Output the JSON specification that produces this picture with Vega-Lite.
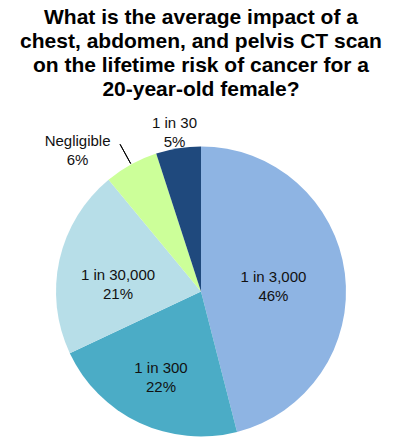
{
  "$schema": "https://vega.github.io/schema/vega-lite/v6.json",
  "width": 400,
  "height": 445,
  "autosize": {"type": "fit", "contains": "padding"},
  "padding": {"top": 29, "left": 0, "right": 5, "bottom": 0},
  "background": "white",
  "title": {
    "text": [
      "What is the average impact of a",
      "chest, abdomen, and pelvis CT scan",
      "on the lifetime risk of cancer for a",
      "20-year-old female?"
    ],
    "font": "Liberation Sans",
    "fontSize": 21,
    "fontWeight": "bold",
    "lineHeight": 24,
    "baseline": "top",
    "color": "black",
    "anchor": "middle",
    "offset": 16
  },
  "data": {
    "values": [
      {"label": "1 in 3,000", "pct": 46, "idx": 1},
      {"label": "1 in 300", "pct": 22, "idx": 2},
      {"label": "1 in 30,000", "pct": 21, "idx": 3},
      {"label": "Negligible", "pct": 6, "idx": 4},
      {"label": "1 in 30", "pct": 5, "idx": 5}
    ]
  },
  "transform": [
    {"calculate": "[datum.label, datum.pct + '%']", "as": "txt"}
  ],
  "encoding": {
    "theta": {"field": "pct", "type": "quantitative", "stack": true},
    "order": {"field": "idx", "type": "quantitative"}
  },
  "layer": [
    {
      "mark": {"type": "arc", "outerRadius": 145},
      "encoding": {
        "color": {
          "field": "label",
          "type": "nominal",
          "scale": {
            "domain": ["1 in 3,000", "1 in 300", "1 in 30,000", "Negligible", "1 in 30"],
            "range": ["#8EB4E3", "#4BACC6", "#B7DEE8", "#CCFF99", "#1F497D"]
          },
          "legend": null
        }
      }
    },
    {
      "mark": {
        "type": "arc",
        "outerRadius": 168,
        "innerRadius": 146,
        "padAngle": 0.6,
        "filled": false,
        "stroke": "black",
        "strokeWidth": 1
      },
      "encoding": {
        "strokeOpacity": {
          "condition": {"test": "datum.label === 'Negligible'", "value": 1},
          "value": 0
        }
      }
    },
    {
      "mark": {"type": "text", "radius": 74, "dx": -1, "dy": -5, "font": "Liberation Sans", "fontSize": 15, "lineHeight": 19, "color": "#111"},
      "encoding": {
        "text": {"condition": {"test": "datum.label === '1 in 3,000'", "field": "txt"}, "value": ""}
      }
    },
    {
      "mark": {"type": "text", "radius": 94, "dx": 0, "dy": -9, "font": "Liberation Sans", "fontSize": 15, "lineHeight": 19, "color": "#111"},
      "encoding": {
        "text": {"condition": {"test": "datum.label === '1 in 300'", "field": "txt"}, "value": ""}
      }
    },
    {
      "mark": {"type": "text", "radius": 83, "dx": -2, "dy": 2, "font": "Liberation Sans", "fontSize": 15, "lineHeight": 19, "color": "#111"},
      "encoding": {
        "text": {"condition": {"test": "datum.label === '1 in 30,000'", "field": "txt"}, "value": ""}
      }
    },
    {
      "mark": {"type": "text", "radius": 169, "dx": -42, "dy": -2, "font": "Liberation Sans", "fontSize": 15, "lineHeight": 19, "color": "#111"},
      "encoding": {
        "text": {"condition": {"test": "datum.label === 'Negligible'", "field": "txt"}, "value": ""}
      }
    },
    {
      "mark": {"type": "text", "radius": 163, "dx": -1, "dy": -8, "font": "Liberation Sans", "fontSize": 15, "lineHeight": 19, "color": "#111"},
      "encoding": {
        "text": {"condition": {"test": "datum.label === '1 in 30'", "field": "txt"}, "value": ""}
      }
    }
  ],
  "config": {"view": {"stroke": null}}
}
